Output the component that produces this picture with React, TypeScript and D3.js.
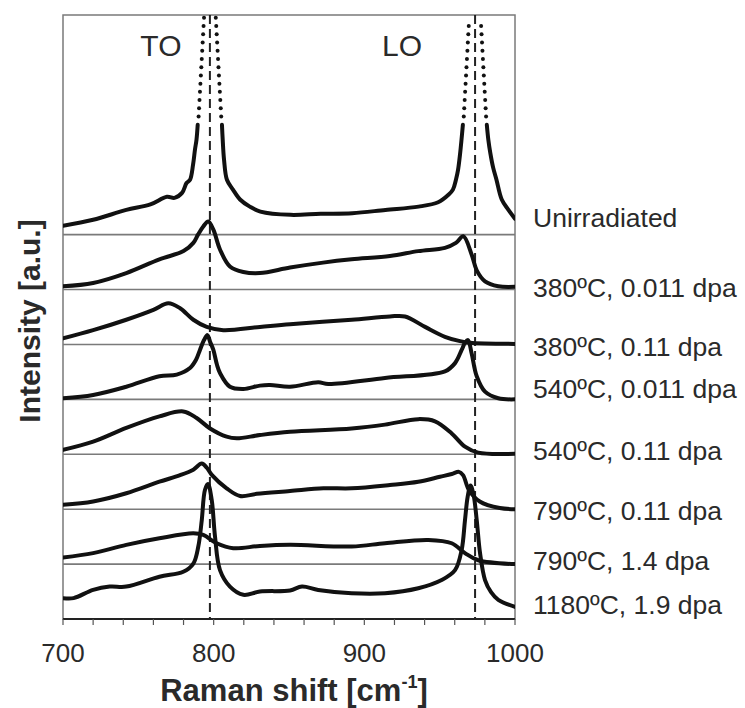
import React from "react";
import * as d3 from "d3";

type Pt = [number, number];

// Raman spectra of SiC samples (Raman shift in cm^-1, relative intensity).
// Each spectrum is stacked on its own baseline level.
const spectrumNames = [
  "Unirradiated",
  "380ºC, 0.011 dpa",
  "380ºC, 0.11 dpa",
  "540ºC, 0.011 dpa",
  "540ºC, 0.11 dpa",
  "790ºC, 0.11 dpa",
  "790ºC, 1.4 dpa",
  "1180ºC, 1.9 dpa",
];
const baselineLevels = [7, 6, 5, 4, 3, 2, 1, 0];
const nameLevels = [7.3, 6.02, 4.96, 4.19, 3.06, 1.97, 1.06, 0.255];

const unirradiated: Pt[] = [
  [700, 0.16], [720, 0.27], [742, 0.45], [758, 0.55], [769, 0.69], [774, 0.67],
  [779, 0.76], [782, 0.94], [784.3, 1.0], [786.3, 1.27], [787.6, 1.55], [788.6, 1.73],
  [789.4, 2.0],
  [790.0, 2.15], [790.3, 2.3], [790.6, 2.45], [790.9, 2.6], [791.2, 2.75], [791.5, 2.9],
  [791.8, 3.05], [792.1, 3.2], [792.4, 3.35], [792.7, 3.5], [793.0, 3.65], [793.3, 3.8],
  [793.6, 3.95],
  [801.4, 3.95], [801.7, 3.8], [802.0, 3.65], [802.3, 3.5], [802.6, 3.35], [802.9, 3.2],
  [803.2, 3.05], [803.5, 2.9], [803.8, 2.75], [804.1, 2.6], [804.4, 2.45], [804.7, 2.3],
  [805.0, 2.15],
  [805.5, 2.0], [806.0, 1.73], [806.9, 1.36], [808.8, 1.0], [812.8, 0.82], [817.5, 0.64],
  [824, 0.51], [831, 0.42], [851, 0.36], [871, 0.38], [892, 0.39], [914, 0.45],
  [936, 0.51], [949, 0.59], [956, 0.73], [958.8, 0.82], [960.8, 1.0], [962.2, 1.18],
  [963.5, 1.46], [964.5, 1.73], [965.4, 2.0],
  [966.0, 2.15], [966.3, 2.3], [966.6, 2.45], [966.9, 2.6], [967.2, 2.75], [967.5, 2.9],
  [967.8, 3.05], [968.1, 3.2], [968.4, 3.35], [968.7, 3.5], [969.0, 3.65], [969.3, 3.8],
  [977.5, 3.8], [977.8, 3.65], [978.1, 3.5], [978.4, 3.35], [978.7, 3.2], [979.0, 3.05],
  [979.3, 2.9], [979.6, 2.75], [979.9, 2.6], [980.2, 2.45], [980.5, 2.3], [980.8, 2.15],
  [981.3, 2.0], [982.3, 1.73], [983.6, 1.49], [985.5, 1.22], [987.7, 1.0], [991.2, 0.64],
  [995.4, 0.46], [1000, 0.29],
];

const t380d0011: Pt[] = [
  [700, 0.06], [720, 0.12], [742, 0.3], [764, 0.55], [780, 0.7], [786.5, 0.85],
  [789.6, 1.0], [793.1, 1.15], [796.4, 1.24], [799.8, 1.09], [804.2, 0.73], [810.8, 0.42],
  [819.7, 0.32], [830.7, 0.3], [850.7, 0.4], [872.6, 0.49], [891.6, 0.55], [917, 0.61],
  [935.8, 0.7], [953.5, 0.76], [960.8, 0.85], [965.7, 0.97], [971.2, 0.64], [974.6, 0.35],
  [980.1, 0.15], [988.9, 0.06], [1000, 0.05],
];

const t380d011: Pt[] = [
  [700, 0.11], [720, 0.26], [742, 0.45], [760, 0.63], [769.9, 0.75], [777.7, 0.66],
  [786.5, 0.45], [795.4, 0.32], [806.4, 0.26], [830.7, 0.32], [850.7, 0.37], [891.6, 0.45],
  [917, 0.51], [927, 0.51], [940.3, 0.32], [953.5, 0.14], [963.5, 0.06], [970.1, 0.03],
  [1000, 0.01],
];

const t540d0011: Pt[] = [
  [700, 0.02], [720, 0.08], [742, 0.23], [764, 0.42], [775.5, 0.45], [784.3, 0.57],
  [788.3, 0.72], [790.9, 0.9], [793.6, 1.08], [795.9, 1.17], [797.6, 1.05], [799.8, 0.9],
  [802.2, 0.63], [804.2, 0.48], [810.8, 0.23], [819.7, 0.19], [830.7, 0.25], [837.4, 0.26],
  [850.7, 0.23], [869.4, 0.31], [876.1, 0.28], [913.7, 0.39], [953.5, 0.51], [960.2, 0.66],
  [964.6, 0.9], [966.8, 1.03], [968.8, 1.08], [971.2, 0.84], [974.6, 0.42], [980.1, 0.14],
  [988.9, 0.02], [1000, 0.0],
];

const t540d011: Pt[] = [
  [700, 0.08], [720, 0.23], [742, 0.48], [764, 0.69], [779.8, 0.78], [788.7, 0.66],
  [797.6, 0.47], [808.6, 0.32], [815.3, 0.29], [830.7, 0.35], [850.7, 0.41], [891.6, 0.47],
  [913.7, 0.54], [935.8, 0.64], [946.9, 0.6], [958, 0.38], [966.8, 0.14], [975.6, 0.03],
  [1000, 0.01],
];

const t790d011: Pt[] = [
  [700, 0.08], [720, 0.14], [742, 0.29], [764, 0.5], [777.7, 0.62], [786.5, 0.72],
  [792.1, 0.83], [795.6, 0.75], [798.9, 0.62], [808.6, 0.38], [817.5, 0.24], [828.6, 0.28],
  [850.7, 0.33], [872.8, 0.38], [891.6, 0.38], [917, 0.44], [935.8, 0.5], [950.2, 0.59],
  [958, 0.64], [962.8, 0.68], [965.5, 0.62], [969.4, 0.35], [976.6, 0.14], [989.9, 0.02],
  [1000, 0.0],
];

const t790d14: Pt[] = [
  [700, 0.12], [720, 0.2], [742, 0.35], [764, 0.47], [786.5, 0.56], [793.1, 0.53],
  [802, 0.38], [813, 0.29], [830.7, 0.33], [850.7, 0.35], [891.6, 0.32], [913.7, 0.38],
  [942.5, 0.44], [958, 0.38], [966.8, 0.2], [975.6, 0.07], [1000, 0.0],
];

const t1180d19: Pt[] = [
  [700, 0.38], [707, 0.38], [720, 0.53], [731, 0.59], [742, 0.59], [764, 0.77],
  [779.8, 0.86], [786.5, 1.01], [789.8, 1.32], [792.1, 1.8], [794.2, 2.35], [796.2, 2.46],
  [798.7, 2.17], [800.9, 1.5], [804.2, 0.89], [810.8, 0.59], [819.7, 0.44], [830.7, 0.5],
  [850.7, 0.52], [858.6, 0.59], [869.4, 0.53], [891.6, 0.47], [913.7, 0.47], [935.8, 0.56],
  [951.3, 0.71], [960.2, 0.89], [964.6, 1.26], [966.8, 1.8], [968.6, 2.23], [970.5, 2.43],
  [972.5, 2.26], [974.6, 1.8], [976.8, 1.2], [980.1, 0.71], [984.1, 0.49], [988.9, 0.35],
  [1000, 0.22],
];

const spectra: Pt[][] = [
  unirradiated, t380d0011, t380d011, t540d0011, t540d011, t790d011, t790d14, t1180d19,
];

// TO and LO reference positions (cm^-1)
const modeNames = ["TO", "LO"];
const modePositions = [797.5, 973.5];
const modeLabelAt = [765, 925];

const xTickValues = [700, 800, 900, 1000];
const separatorLevels = [1, 2, 3, 4, 5, 6, 7];

// Measured points above this level are shown as individual markers.
const dotLevel = 2.0;

export default function App() {
  const W = 745;
  const H = 708;
  const left = 63;
  const right = 515;
  const top = 15;
  const bottom = 619;

  const x = d3.scaleLinear().domain([700, 1000]).range([left, right]);
  const y = d3.scaleLinear().domain([0, 11]).range([bottom, top]);

  const font = "'Liberation Sans', Arial, Helvetica, sans-serif";
  const textColor = "#2a2a2a";
  const minorTicks = d3.range(700, 1001, 20);

  return (
    <svg
      width={W}
      height={H}
      viewBox={`0 0 ${W} ${H}`}
      style={{ position: "absolute", left: 0, top: 0, background: "#fff" }}
    >
      <defs>
        <clipPath id="plotClip">
          <rect x={left} y={top} width={right - left} height={bottom - top} />
        </clipPath>
      </defs>

      {/* frame */}
      <rect x={left} y={top} width={right - left} height={bottom - top} fill="none" stroke="#7a7a7a" strokeWidth={1.5} />

      {/* band separators */}
      {separatorLevels.map((lv) => (
        <line key={lv} x1={left} x2={right} y1={y(lv)} y2={y(lv)} stroke="#7a7a7a" strokeWidth={1.6} />
      ))}

      {/* TO / LO reference lines */}
      {modePositions.map((p, i) => (
        <line
          key={i}
          x1={x(p)}
          x2={x(p)}
          y1={top}
          y2={bottom}
          stroke="#222"
          strokeWidth={2}
          strokeDasharray="9,5"
        />
      ))}

      {/* spectra */}
      <g clipPath="url(#plotClip)">
        {spectra.map((s, i) => {
          const off = baselineLevels[i];
          const gen = d3
            .line<Pt>()
            .x((d) => x(d[0]))
            .y((d) => y(d[1] + off))
            .curve(d3.curveCatmullRom.alpha(0.5));
          if (i === 0) {
            gen.defined((d) => d[1] <= dotLevel);
          }
          return (
            <g key={i}>
              <path d={gen(s) || ""} fill="none" stroke="#111" strokeWidth={4} strokeLinejoin="round" strokeLinecap="round" />
              {i === 0 &&
                s
                  .filter((d) => d[1] > dotLevel)
                  .map((d, j) => (
                    <circle key={j} cx={x(d[0])} cy={y(d[1] + off)} r={2} fill="#111" />
                  ))}
            </g>
          );
        })}
      </g>

      {/* x axis */}
      <line x1={left} x2={right} y1={bottom} y2={bottom} stroke="#222" strokeWidth={2} />
      {minorTicks.map((t) => (
        <line key={t} x1={x(t)} x2={x(t)} y1={bottom} y2={bottom + 6} stroke="#555" strokeWidth={1.2} />
      ))}
      {xTickValues.map((t) => (
        <text key={t} x={x(t)} y={662} textAnchor="middle" fontFamily={font} fontSize={26} fill={textColor}>
          {t}
        </text>
      ))}
      <text x={294} y={701} textAnchor="middle" fontFamily={font} fontSize={31} fontWeight="bold" fill={textColor}>
        Raman shift [cm
        <tspan fontSize={18} dy={-13}>-1</tspan>
        <tspan dy={13}>]</tspan>
      </text>

      {/* y axis title */}
      <text
        transform={`translate(29,${321}) rotate(-90)`}
        textAnchor="middle"
        dominantBaseline="central"
        fontFamily={font}
        fontSize={30}
        fontWeight="bold"
        fill={textColor}
      >
        Intensity [a.u.]
      </text>

      {/* mode labels */}
      {modeNames.map((m, i) => (
        <text key={m} x={x(modeLabelAt[i])} y={56} textAnchor="middle" fontFamily={font} fontSize={30} fill={textColor}>
          {m}
        </text>
      ))}

      {/* spectrum names */}
      {spectrumNames.map((n, i) => (
        <text
          key={n}
          x={533}
          y={y(nameLevels[i])}
          dominantBaseline="central"
          fontFamily={font}
          fontSize={26.5}
          fill={textColor}
        >
          {n}
        </text>
      ))}
    </svg>
  );
}
